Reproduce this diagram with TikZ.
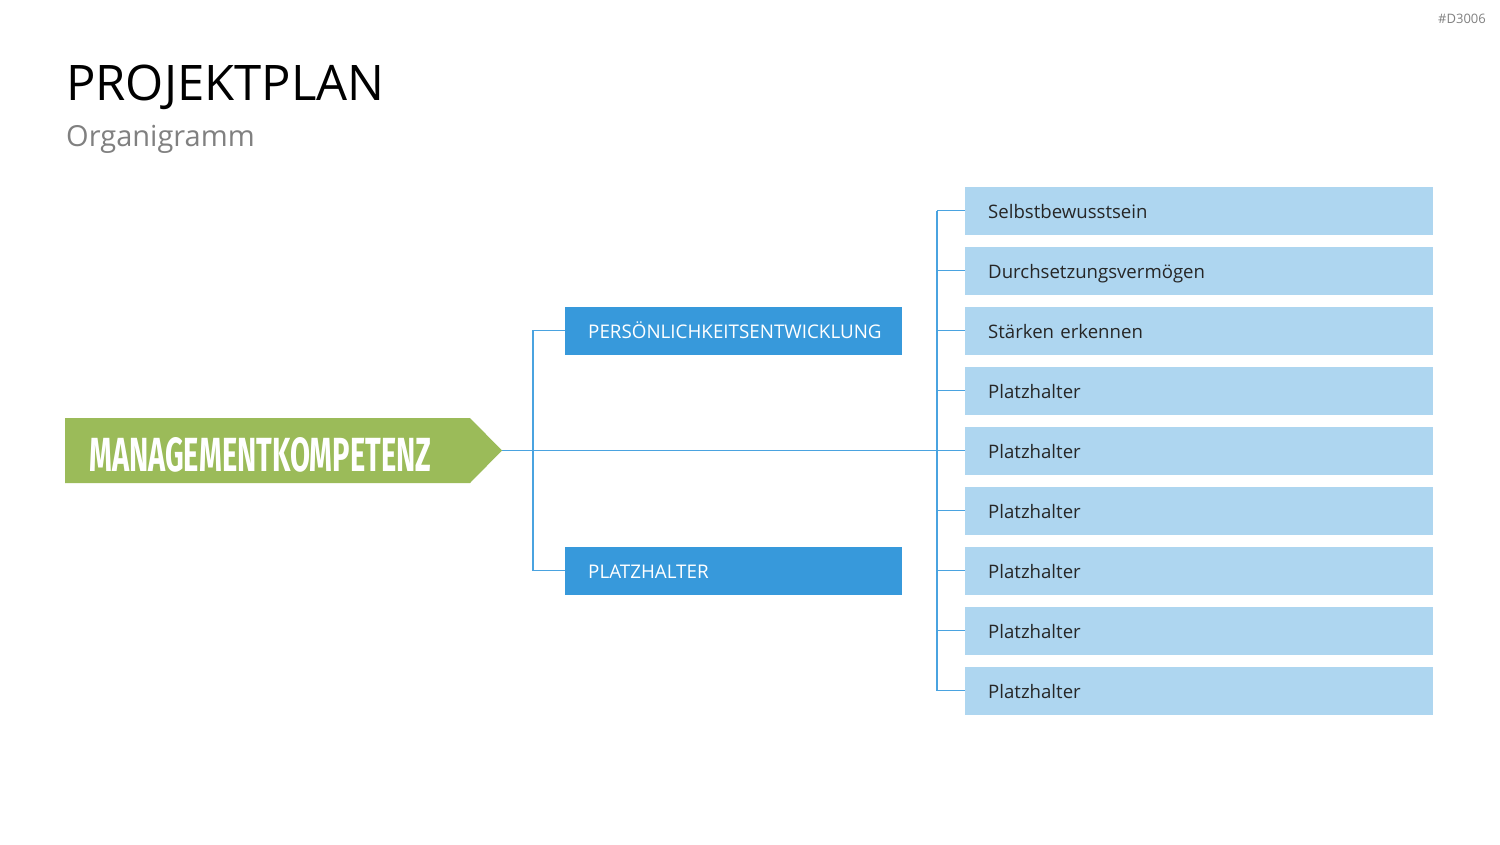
\documentclass[tikz,border=0pt]{standalone}
\usepackage{fontspec}
\setmainfont{Open Sans}
\newfontfamily\headfont{Fira Sans}
\usetikzlibrary{positioning}
\definecolor{grn}{HTML}{9BBB59}
\definecolor{midblue}{HTML}{3799DB}
\definecolor{lightblue}{HTML}{AED6F0}
\definecolor{linecol}{HTML}{4AA3E0}
\definecolor{graytxt}{HTML}{808080}
\begin{document}
\begin{tikzpicture}[x=1pt,y=-1pt,
  conn/.style={draw=linecol, line width=1.1pt},
  midbox/.style={fill=midblue, minimum height=48pt, text width=291pt, text height=20pt, text depth=4pt, inner xsep=23pt, inner ysep=0pt, align=left, anchor=west, text=white, font=\fontsize{18.8}{22}\selectfont},
  leafbox/.style={fill=lightblue, minimum height=48pt, text width=422pt, text height=20pt, text depth=4pt, inner xsep=23pt, inner ysep=0pt, align=left, anchor=west, text=black!85, font=\fontsize{18.6}{22}\selectfont}]
\useasboundingbox (0,0) rectangle (1500,844);
% header
\node[anchor=east, inner sep=0pt, text=graytxt, font=\fontsize{13}{15}\selectfont] (code) at (1486,19) {\#D3006};
\node[anchor=base west, inner sep=0pt, font=\fontsize{49}{56}\selectfont] (title) at (66,100) {PROJEKTPLAN};
\node[anchor=base west, inner sep=0pt, text=graytxt, font=\fontsize{29}{34}\selectfont] (sub) at (66,146) {Organigramm};
% green arrow
\fill[grn] (65,418) -- (470,418) -- (502,450.5) -- (470,483) -- (65,483) -- cycle;
\coordinate (tip) at (502,450.5);
\node[anchor=base west, inner sep=0pt, text=white] (main) at (89,471) {\resizebox{342pt}{34pt}{\headfont\bfseries MANAGEMENTKOMPETENZ}};
% mid boxes
\node[midbox] (m1) at (565,330.5) {PERSÖNLICHKEITSENTWICKLUNG};
\node[midbox] (m2) at (565,570.5) {PLATZHALTER};
% leaf boxes
\node[leafbox] (l1) at (965,210.5) {Selbstbewusstsein};
\node[leafbox] (l2) at (965,270.5) {Durchsetzungsvermögen};
\node[leafbox] (l3) at (965,330.5) {Stärken erkennen};
\node[leafbox] (l4) at (965,390.5) {Platzhalter};
\node[leafbox] (l5) at (965,450.5) {Platzhalter};
\node[leafbox] (l6) at (965,510.5) {Platzhalter};
\node[leafbox] (l7) at (965,570.5) {Platzhalter};
\node[leafbox] (l8) at (965,630.5) {Platzhalter};
\node[leafbox] (l9) at (965,690.5) {Platzhalter};
% connectors
\coordinate (bx) at (533,0);
\coordinate (rx) at (937,0);
\draw[conn] (tip) -- (l5.west);
\draw[conn] (m1.west) -- (m1.west -| bx) -- (m2.west -| bx) -- (m2.west);
\draw[conn] (l1.west -| rx) -- (l9.west -| rx);
\foreach \i in {1,...,9} {\draw[conn] (l\i.west -| rx) -- (l\i.west);}
\end{tikzpicture}
\end{document}
